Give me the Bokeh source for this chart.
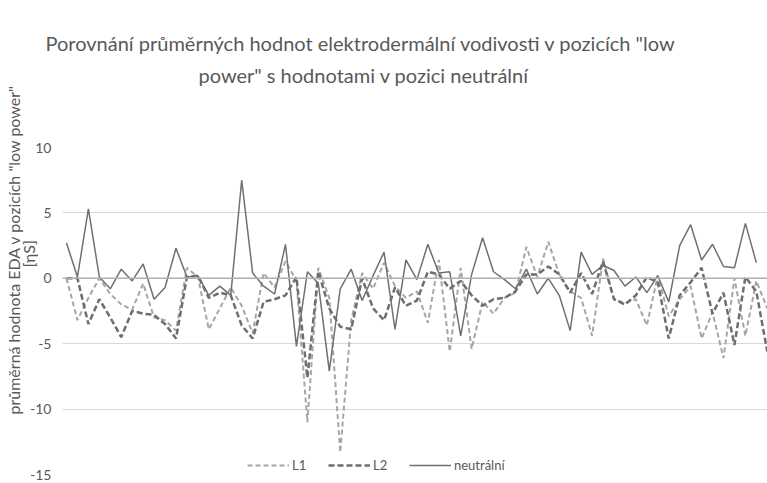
import numpy as np
from bokeh.plotting import figure
from bokeh.models import (ColumnDataSource, Range1d, Span, Legend, LegendItem, FixedTicker, Title)
from bokeh.embed import file_html
from bokeh.resources import INLINE

# ---- data ----
idx = list(range(65))

neutralni = [2.7, 0.1, 5.3, 0.1, -0.8, 0.7, -0.2, 1.1, -1.6, -0.7,
             2.3, 0.1, 0.2, -1.3, -0.6, -1.3, 7.5, 0.4, -0.6, -1.2,
             2.6, -5.2, 0.5, -0.4, -7.1, -0.8, 0.7, -1.7, 0.2, 2.0,
             -3.9, 1.4, -0.1, 2.6, 0.4, 0.5, -4.4, 0.3, 3.1, 0.5,
             -0.1, -0.8, 0.7, -1.2, 0.0, -1.3, -4.0, 2.0, 0.3, 1.0,
             0.6, -0.6, 0.1, -1.1, 0.2, -1.8, 2.5, 4.1, 1.4, 2.6,
             0.9, 0.8, 4.2, 1.2, float("nan")]

L1 = [0.0, -3.2, -1.5, 0.0, -1.2, -2.0, -2.4, -0.4, -3.0, -3.2,
      -4.0, 0.8, 0.1, -3.9, -2.3, -0.7, -2.1, -4.2, 0.4, -0.7,
      1.3, -0.2, -11.0, 0.8, -1.5, -13.3, -3.2, 0.4, -0.8, 1.2,
      -0.6, -1.5, -1.0, -3.4, 1.4, -5.6, 0.8, -5.4, -1.8, -2.7,
      -1.5, -1.1, 2.4, 0.1, 2.8, 0.3, -1.0, -1.5, -4.4, 1.5,
      -1.6, -1.9, -1.6, -3.6, 0.2, -2.9, -1.6, -0.6, -4.6, -2.6,
      -6.1, 0.0, -4.4, -0.2, -2.3]

L2 = [0.0, 0.0, -3.5, -1.6, -3.0, -4.5, -2.5, -2.7, -2.8, -3.5,
      -4.6, 0.1, 0.2, -1.5, -1.1, -1.3, -3.6, -4.6, -1.8, -1.6,
      -1.3, 0.1, -7.6, 0.5, -2.3, -3.7, -3.9, 0.0, -2.3, -3.2,
      -0.7, -2.1, -1.7, 0.5, 0.3, -0.8, -0.2, -1.3, -2.1, -1.6,
      -1.5, -1.0, 0.3, 0.3, 0.9, 0.3, -1.1, 0.4, -1.2, 1.3,
      -1.6, -2.0, -1.3, 0.1, -0.3, -4.6, -1.3, -0.3, 0.8, -2.7,
      -1.1, -5.1, 0.1, -1.0, -5.6]

series_names = ["L1", "L2", "neutrální"]
y_ticks = [-15, -10, -5, 0, 5, 10]
y_tick_labels = ["-15", "-10", "-5", "0", "5", "10"]

title_line1 = "Porovnání průměrných hodnot elektrodermální vodivosti v pozicích \"low"
title_line2 = "power\" s hodnotami v pozici neutrální"
ylabel_line1 = "průměrná hodnota EDA v pozicích \"low power\""
ylabel_line2 = "[ηS]"

FONT = "Lato"
TXT = "#595959"


def make_title(text, size, standoff, **kw):
    try:
        return Title(text=text, standoff=standoff, text_font=FONT, text_font_size=size,
                     text_font_style="normal", text_color=TXT, **kw)
    except Exception:
        return Title(text=text, standoff=0, text_font=FONT, text_font_size=size,
                     text_font_style="normal", text_color=TXT, **kw)


src = ColumnDataSource(data=dict(x=idx, l1=L1, l2=L2, n=np.array(neutralni, dtype=float)))

p = figure(width=767, height=483, output_backend="svg", toolbar_location=None,
           x_range=Range1d(-0.365, 64.02), y_range=Range1d(-15, 10),
           min_border_left=62, min_border_right=0, min_border_top=147, min_border_bottom=9)
p.outline_line_color = None
p.background_fill_color = "white"
p.border_fill_color = "white"

# ---- title: line 1 is the plot title (outermost), line 2 sits below it, then a spacer
p.title.text = title_line1
p.title.align = "left"
p.title.offset = -17
p.title.standoff = 6
p.title.text_font = FONT
p.title.text_font_size = "20px"
p.title.text_font_style = "normal"
p.title.text_color = TXT
spacer = make_title(" ", "1px", 55, align="left")
t2 = make_title(title_line2, "20px", 6, align="left", offset=136)
p.add_layout(spacer, "above")
p.add_layout(t2, "above")

# ---- axes / grid
p.xaxis.visible = False
p.xgrid.grid_line_color = None
p.ygrid.grid_line_color = "#D9D9D9"
p.ygrid.grid_line_width = 1
p.yaxis.ticker = FixedTicker(ticks=y_ticks)
p.yaxis.major_label_overrides = {t: s for t, s in zip(y_ticks, y_tick_labels)}
p.yaxis.axis_line_color = None
p.yaxis.major_tick_line_color = None
p.yaxis.minor_tick_line_color = None
p.yaxis.major_tick_out = 0
p.yaxis.major_tick_in = 0
p.yaxis.major_label_standoff = 11
p.yaxis.major_label_text_font = FONT
p.yaxis.major_label_text_font_size = "14px"
p.yaxis.major_label_text_color = TXT

# ---- y-axis title: two rotated lines placed in the left panel (kept narrow so the
#      plot frame stays at its left border)
ya2 = make_title(ylabel_line2, "16px", -21, align="left", offset=207, vertical_align="bottom")
ya1 = make_title(ylabel_line1, "16px", 6, align="left", offset=60, vertical_align="top")
p.add_layout(ya2, "left")
p.add_layout(ya1, "left")

p.add_layout(Span(location=0, dimension="width", line_color="#B0B0B0", line_width=1.5))

r1 = p.line("x", "l1", source=src, line_color="#A6A6A6", line_width=2.0, line_dash="5 3")
r2 = p.line("x", "l2", source=src, line_color="#6E6E6E", line_width=2.5, line_dash="6 3")
r3 = p.line("x", "n", source=src, line_color="#707070", line_width=1.5)

legend = Legend(items=[LegendItem(label=series_names[0], renderers=[r1]),
                       LegendItem(label=series_names[1], renderers=[r2]),
                       LegendItem(label=series_names[2], renderers=[r3])],
                orientation="horizontal", location=(185, 1),
                glyph_width=42, glyph_height=16, label_height=16, label_standoff=3,
                spacing=16, padding=0, margin=0, border_line_color=None,
                background_fill_alpha=0, label_text_font=FONT,
                label_text_font_size="13px", label_text_color=TXT)
p.add_layout(legend)

open("out.html", "w").write(file_html(p, INLINE))
